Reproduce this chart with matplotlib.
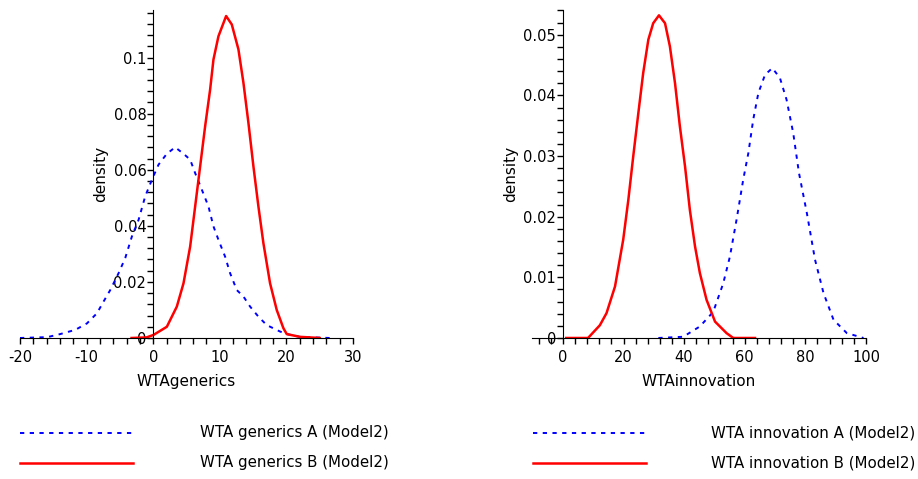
import numpy as np
import matplotlib
matplotlib.use("Agg")
import matplotlib.pyplot as plt
from matplotlib.lines import Line2D
from matplotlib.ticker import MultipleLocator, FuncFormatter

plt.rcParams["font.family"] = "DejaVu Sans"

# WTA generics (left panel)
gen_a_x = [-20, -15.9, -13.95, -11.7, -9.95, -8.45, -7.45, -6.45, -5.2, -4.2, -3.2, -2.2,
           -1.2, -0.2, 0.8, 2.05, 3.3, 4.55, 5.55, 6.3, 7.3, 8.3, 9.05, 9.8, 10.8,
           11.55, 12.55, 13.55, 14.55, 15.8, 17.05, 19.05, 20.05, 22, 26.5]
gen_a_y = [0.0, 0.0003, 0.0014, 0.0029, 0.0052, 0.0088, 0.013, 0.0171, 0.0231, 0.0285, 0.0362, 0.0421,
           0.0505, 0.0564, 0.0618, 0.0657, 0.068, 0.0657, 0.0636, 0.0588, 0.0529, 0.0469, 0.0398, 0.035, 0.029,
           0.0231, 0.0171, 0.0148, 0.0112, 0.0076, 0.0046, 0.0023, 0.0014, 0.0004, 0.0]
gen_b_x = [-3.25, -1.0, 0.05, 2.05, 3.55, 4.55, 5.55, 6.3, 7.05, 7.8, 8.55, 9.05, 9.8,
           10.95, 11.8, 12.8, 13.55, 14.3, 15.05, 15.8, 16.55, 17.55, 18.55, 19.55, 20.05,
           22.05, 25]
gen_b_y = [0.0, 0.0002, 0.0011, 0.004, 0.0112, 0.0195, 0.0326, 0.0469, 0.0612, 0.0755, 0.0886, 0.0993, 0.1076,
           0.1148, 0.1118, 0.1029, 0.091, 0.0767, 0.0612, 0.0469, 0.0338, 0.0195, 0.01, 0.0035, 0.0014,
           0.0004, 0.0]

# WTA innovation (right panel)
inn_a_x = [31.5, 39.7, 45.2, 49.6, 52.9, 55.1, 57.3, 59.5, 61.2, 62.8, 64.5, 66.7, 69.1,
           71.6, 73.8, 76.0, 77.9, 80.5, 83.2, 86.0, 89.3, 93.7, 99.2]
inn_a_y = [0.0, 0.0002, 0.0019, 0.0043, 0.009, 0.0134, 0.0195, 0.0261, 0.0305, 0.036, 0.0404, 0.0434, 0.0445,
           0.0429, 0.0393, 0.0338, 0.0272, 0.0206, 0.0129, 0.0074, 0.003, 0.0008, 0.0]
inn_b_x = [1.1, 8.3, 12.2, 14.4, 17.2, 19.9, 21.6, 23.2, 24.9, 26.5, 28.2, 29.8, 31.7,
           33.7, 35.3, 37.0, 38.6, 40.3, 41.9, 43.6, 45.2, 47.4, 50.2, 54.0, 56.2, 63.4]
inn_b_y = [0.0, 0.0, 0.0021, 0.0041, 0.0085, 0.0162, 0.0228, 0.0299, 0.0371, 0.0437, 0.0492, 0.0519, 0.0532,
           0.0519, 0.0481, 0.042, 0.0349, 0.0283, 0.0211, 0.0151, 0.0107, 0.0063, 0.0027, 0.0008, 0.0, 0.0]

labels_left = ["WTA generics A (Model2)", "WTA generics B (Model2)"]
labels_right = ["WTA innovation A (Model2)", "WTA innovation B (Model2)"]

blue_style = dict(color="#0000ff", lw=1.4, ls=(0, (2.2, 2.8)))
red_style = dict(color="#ff0000", lw=1.8, ls="-")

fig = plt.figure(figsize=(9.18, 4.79), dpi=100)
ax1 = fig.add_axes([0.0218, 0.2944, 0.3627, 0.685])
ax2 = fig.add_axes([0.5795, 0.2944, 0.3638, 0.685])


def fmt(v, pos):
    return "%g" % round(v, 6)


def style_axis(ax, xlim, ylim, xmaj, xmin, ymaj, ymin, xlabel):
    ax.set_xlim(*xlim)
    ax.set_ylim(*ylim)
    for s in ["top", "right"]:
        ax.spines[s].set_visible(False)
    ax.spines["left"].set_position(("data", 0))
    ax.spines["bottom"].set_position(("data", 0))
    ax.xaxis.set_major_locator(MultipleLocator(xmaj))
    ax.xaxis.set_minor_locator(MultipleLocator(xmin))
    ax.yaxis.set_major_locator(MultipleLocator(ymaj))
    ax.yaxis.set_minor_locator(MultipleLocator(ymin))
    ax.xaxis.set_major_formatter(FuncFormatter(fmt))
    ax.yaxis.set_major_formatter(FuncFormatter(fmt))
    ax.tick_params(axis="both", which="both", direction="out", length=4, width=1, labelsize=10.5)
    ax.tick_params(axis="x", pad=5)
    ax.tick_params(axis="y", pad=1)
    ax.patch.set_visible(False)
    ax.set_xlabel(xlabel, fontsize=11)
    ax.xaxis.set_label_coords(0.5, -0.11)
    ax.set_ylabel("density", fontsize=11)


ax1.plot(gen_a_x, gen_a_y, **blue_style)
ax1.plot(gen_b_x, gen_b_y, **red_style)
style_axis(ax1, (-20, 30), (0, 0.117), 10, 2, 0.02, 0.004, "WTAgenerics")
ax1.yaxis.set_label_coords(0.265, 0.5)

ax2.plot(inn_a_x, inn_a_y, **blue_style)
ax2.plot(inn_b_x, inn_b_y, **red_style)
style_axis(ax2, (-10.2, 100), (0, 0.0541), 20, 4, 0.01, 0.002, "WTAinnovation")
ax2.yaxis.set_label_coords(-0.04, 0.5)

# legends below the panels
for x0, x1, xt, labels in [(20, 133, 200, labels_left), (533, 646, 711, labels_right)]:
    for yy, lab, st in [(433, labels[0], blue_style), (463, labels[1], red_style)]:
        yf = 1 - yy / 479
        fig.add_artist(Line2D([x0 / 918, x1 / 918], [yf, yf], transform=fig.transFigure, **st))
        fig.text(xt / 918, yf, lab, fontsize=10.8, va="center", ha="left")

fig.savefig("out.png", dpi=100)
